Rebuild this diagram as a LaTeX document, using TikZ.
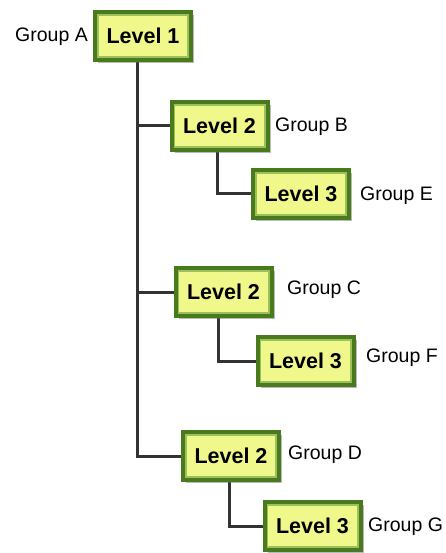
\documentclass[tikz,border=0pt]{standalone}
\usepackage{fontspec}
\setmainfont{Liberation Sans}
\usetikzlibrary{shadows}
\pgfdeclarelayer{bg}
\pgfsetlayers{bg,main}
\definecolor{dkgreen}{HTML}{4A7A1E}
\definecolor{ltgreen}{HTML}{9CC05A}
\definecolor{boxfill}{HTML}{F0F88C}
\definecolor{linegray}{HTML}{333333}
\tikzset{
  lvl/.style={draw=dkgreen, line width=4pt, fill=boxfill,
    minimum width=96pt, minimum height=48pt, inner sep=0pt,
    font=\fontsize{21.5}{23}\selectfont\bfseries, text=black,
    drop shadow={shadow xshift=3pt, shadow yshift=-3pt, fill=black!60, opacity=0.45},
    path picture={\draw[ltgreen, line width=1.6pt]
      ([shift={(2.8pt,-2.8pt)}]path picture bounding box.north west) rectangle
      ([shift={(-2.8pt,2.8pt)}]path picture bounding box.south east);}},
  grp/.style={font=\fontsize{19.5}{21}\selectfont, text=black, inner sep=0pt},
  conn/.style={draw=linegray, line width=3pt}
}
\begin{document}
\begin{tikzpicture}[x=1pt, y=-1pt]
\useasboundingbox (0,0) rectangle (446,553);
\coordinate (t) at (137,0);
\node[lvl] (l1) at (143,36) {Level 1};
\node[lvl] (l2b) at (219.5,126) {Level 2};
\node[lvl] (l3e) at (301,194) {Level 3};
\node[lvl] (l2c) at (223.5,292) {Level 2};
\node[lvl] (l3f) at (305.5,361) {Level 3};
\node[lvl] (l2d) at (231,456) {Level 2};
\node[lvl] (l3g) at (312.5,526) {Level 3};
\begin{pgfonlayer}{bg}
\draw[conn] (l1.south -| t) -- (l2d.west -| t) -- (l2d.west);
\draw[conn] (l2b.west -| t) -- (l2b.west);
\draw[conn] (l2c.west -| t) -- (l2c.west);
\draw[conn] ([xshift=-2.5pt]l2b.south) |- (l3e.west);
\draw[conn] ([xshift=-5pt]l2c.south) |- (l3f.west);
\draw[conn] ([xshift=-2pt]l2d.south) |- (l3g.west);
\end{pgfonlayer}
\node[grp, anchor=east] (ga) at (88,37) {Group A};
\node[grp, anchor=west] (gb) at (275,127) {Group B};
\node[grp, anchor=west] (ge) at (360,196) {Group E};
\node[grp, anchor=west] (gc) at (287,290) {Group C};
\node[grp, anchor=west] (gf) at (366,358) {Group F};
\node[grp, anchor=west] (gd) at (288,455) {Group D};
\node[grp, anchor=west] (gg) at (368,527) {Group G};
\end{tikzpicture}
\end{document}
